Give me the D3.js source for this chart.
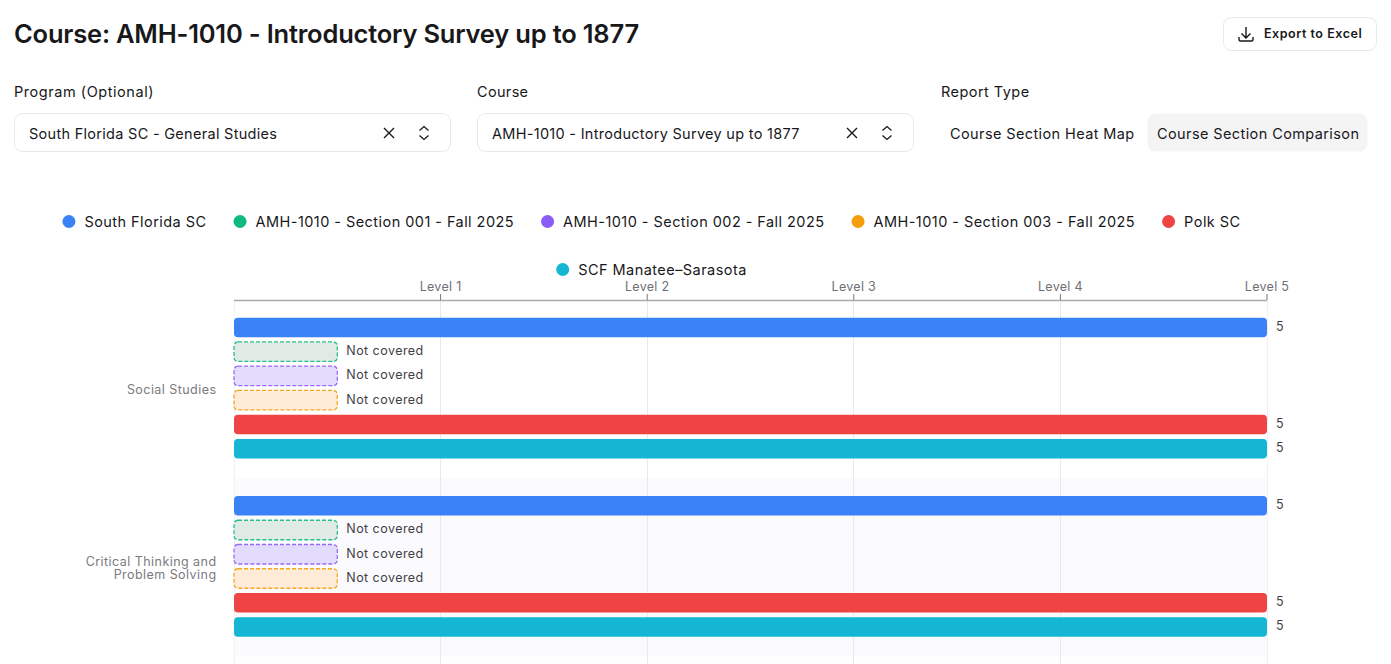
<!DOCTYPE html>
<html>
<head>
<meta charset="utf-8">
<script src="https://cdn.jsdelivr.net/npm/d3@7"></script>
<style>
  html, body { margin: 0; padding: 0; background: #fff; overflow: hidden; }
  svg { display: block; font-family: Inter, "Noto Sans", sans-serif; }
</style>
</head>
<body>
<div id="page"></div>
<script>
// chart data
var categories = ["Social Studies", "Critical Thinking and Problem Solving"];
var seriesNames = [
  "South Florida SC",
  "AMH-1010 - Section 001 - Fall 2025",
  "AMH-1010 - Section 002 - Fall 2025",
  "AMH-1010 - Section 003 - Fall 2025",
  "Polk SC",
  "SCF Manatee–Sarasota"
];
var southFlorida = [5, 5];
var section001 = [null, null];
var section002 = [null, null];
var section003 = [null, null];
var polk = [5, 5];
var scfManatee = [5, 5];
var levelTicks = [1, 2, 3, 4, 5];

var seriesValues = [southFlorida, section001, section002, section003, polk, scfManatee];
var seriesColors = ["#3b82f6", "#10b981", "#8b5cf6", "#f59e0b", "#ef4444", "#14b6d4"];
var emptyFills = ["#dbeafe", "#e0ebe5", "#e4dcfd", "#feecd9", "#fee2e2", "#cffafe"];

var width = 1391, height = 664;
var svg = d3.select("#page").append("svg").attr("width", width).attr("height", height);

var ink = "#18181b", border = "#e2ebe9";

// --- header and controls ---
function label(txt, x, y, size, weight, spacing) {
  return svg.append("text").attr("x", x).attr("y", y).text(txt)
    .attr("font-size", size).attr("font-weight", weight || 400).attr("fill", ink)
    .attr("letter-spacing", spacing || 0);
}
function box(x, y, w, h, r, fill, stroke) {
  return svg.append("rect").attr("x", x + 0.5).attr("y", y + 0.5).attr("width", w - 1).attr("height", h - 1)
    .attr("rx", r).attr("fill", fill).attr("stroke", stroke || "none");
}
function selectBox(x, title, value) {
  label(title, x, 96.5, 14.5, 400, x < 100 ? 0.55 : 0.33);
  box(x, 113, 437, 39, 8, "#fff", border);
  label(value, x + 15, 138.5, 14.5, 400, 0.29);
  var ix = x + 375, iy = 133; // clear icon
  svg.append("path").attr("d", "M" + (ix - 5) + "," + (iy - 5) + "L" + (ix + 5) + "," + (iy + 5) + "M" + (ix + 5) + "," + (iy - 5) + "L" + (ix - 5) + "," + (iy + 5))
    .attr("stroke", ink).attr("stroke-width", 1.4).attr("fill", "none");
  var cx = x + 410; // up/down chevrons
  svg.append("path").attr("d", "M" + (cx - 4.5) + "," + (iy - 2.5) + "L" + cx + "," + (iy - 6.5) + "L" + (cx + 4.5) + "," + (iy - 2.5) + "M" + (cx - 4.5) + "," + (iy + 2.5) + "L" + cx + "," + (iy + 6.5) + "L" + (cx + 4.5) + "," + (iy + 2.5))
    .attr("stroke", ink).attr("stroke-width", 1.3).attr("fill", "none");
}

label("Course:", 14, 43, 25.5, 600, -0.2);
label("AMH-1010 - Introductory Survey up to 1877", 116, 43, 25.5, 600, -0.2);

box(1223, 17, 154, 34, 8, "#fff", border);
svg.append("path")
  .attr("d", "M1246,27V38M1241.5,33.5L1246,38L1250.5,33.5M1239,37V39.5Q1239,41 1240.5,41H1251.5Q1253,41 1253,39.5V37")
  .attr("stroke", ink).attr("stroke-width", 1.4).attr("fill", "none");
label("Export to Excel", 1264, 38, 12.5, 600, 0.53);

selectBox(14, "Program (Optional)", "South Florida SC - General Studies");
selectBox(477, "Course", "AMH-1010 - Introductory Survey up to 1877");

label("Report Type", 941, 96.5, 14.5, 400, 0.45);
box(1147, 113, 221, 39, 8, "#f4f4f5");
label("Course Section Heat Map", 950, 138.5, 14.5, 400, 0.39);
label("Course Section Comparison", 1157, 138.5, 14.5, 400, 0.4);

// --- legend, centred and wrapped like the original ---
var legendMaxWidth = 1300, legendCentre = 651.5, legendGap = 27, legendRowY = [221.5, 269.5];
var legendItems = svg.append("g").selectAll("g").data(seriesNames).enter().append("g");
legendItems.append("circle").attr("cx", 6.5).attr("cy", 0).attr("r", 6.5)
  .attr("fill", function(d, i) { return seriesColors[i]; });
legendItems.append("text").attr("x", 22).attr("dy", "0.35em").attr("font-size", 14.5).attr("fill", ink)
  .attr("letter-spacing", 0.45)
  .text(function(d) { return d; });

var rows = [[]], rowW = 0;
legendItems.each(function() {
  var w = this.getBBox().width;
  if (rowW + w > legendMaxWidth) { rows.push([]); rowW = 0; }
  rows[rows.length - 1].push({ node: this, w: w });
  rowW += w + legendGap;
});
rows.forEach(function(row, r) {
  var total = d3.sum(row, function(d) { return d.w; }) + legendGap * (row.length - 1);
  var x = legendCentre - total / 2;
  row.forEach(function(item) {
    d3.select(item.node).attr("transform", "translate(" + x + "," + legendRowY[r] + ")");
    x += item.w + legendGap;
  });
});

// --- chart ---
var x = d3.scaleLinear().domain([0, 5]).range([234, 1267]);
var y = d3.scaleBand().domain(categories).range([300, 656.6]);
var inner = d3.scaleBand().domain(seriesNames).range([17.7, 158.45]).paddingInner(0.196);
var notCoveredLevel = 0.5; // placeholder bar length

// alternate band behind the second category
svg.append("g").selectAll("rect").data(categories).enter().append("rect")
  .attr("x", x(0)).attr("width", x(5) - x(0))
  .attr("y", function(d) { return y(d); }).attr("height", y.bandwidth())
  .attr("fill", function(d, i) { return i % 2 ? "#fbfbfe" : "none"; });

// grid
svg.append("g").selectAll("line").data([0].concat(levelTicks)).enter().append("line")
  .attr("x1", function(d) { return Math.floor(x(d)) + 0.5; }).attr("x2", function(d) { return Math.floor(x(d)) + 0.5; })
  .attr("y1", 300).attr("y2", height)
  .attr("stroke", function(d) { return d === 0 || d === 5 ? "#f0f1f3" : "#e3ecea"; });

// top axis
var axis = svg.append("g").attr("transform", "translate(-0.5,300)")
  .call(d3.axisTop(x).tickValues(levelTicks).tickSize(6).tickSizeOuter(0).tickPadding(3)
    .tickFormat(function(d) { return "Level " + d; }));
axis.select(".domain").attr("stroke", "#aaa").attr("stroke-width", 1.4);
axis.selectAll(".tick line").attr("stroke", "#777");
axis.selectAll("text").attr("font-size", 12.5).attr("font-family", "Inter").attr("fill", "#6f6f76")
  .attr("letter-spacing", 0.3);

// category labels, wrapped to the margin
var catLabels = svg.append("g").selectAll("text").data(categories).enter().append("text")
  .attr("text-anchor", "end").attr("font-size", 12.5).attr("fill", "#7a7a80").attr("letter-spacing", 0.45);
catLabels.each(function(d) {
  var t = d3.select(this), lines = [], cur = "";
  d.split(" ").forEach(function(word) {
    var next = cur ? cur + " " + word : word;
    t.text(next);
    if (t.node().getComputedTextLength() > 140 && cur) { lines.push(cur); cur = word; } else { cur = next; }
  });
  lines.push(cur);
  t.text(null);
  var mid = y(d) + 89.5, lineH = 13;
  lines.forEach(function(line, i) {
    t.append("tspan").attr("x", 216.5)
      .attr("y", mid + (i - (lines.length - 1) / 2) * lineH)
      .attr("dy", "0.35em").text(line);
  });
});

// bars
var rowsData = [];
seriesNames.forEach(function(name, s) {
  categories.forEach(function(cat, c) {
    rowsData.push({ series: name, s: s, cat: cat, value: seriesValues[s][c] });
  });
});
function rowY(d) { return y(d.cat) + inner(d.series); }

var marks = svg.append("g").selectAll("g").data(rowsData).enter().append("g");

marks.filter(function(d) { return d.value !== null; }).each(function(d) {
  var g = d3.select(this);
  g.append("rect").attr("x", x(0)).attr("y", rowY(d))
    .attr("width", x(d.value) - x(0)).attr("height", inner.bandwidth())
    .attr("rx", 4).attr("fill", seriesColors[d.s]);
  g.append("text").attr("x", x(d.value) + 9).attr("y", rowY(d) + inner.bandwidth() / 2)
    .attr("dy", "0.27em").attr("font-size", 12.5).attr("fill", "#3f3f46").text(d.value);
});

marks.filter(function(d) { return d.value === null; }).each(function(d) {
  var g = d3.select(this);
  g.append("rect").attr("x", x(0)).attr("y", rowY(d))
    .attr("width", x(notCoveredLevel) - x(0)).attr("height", inner.bandwidth())
    .attr("rx", 4).attr("fill", emptyFills[d.s])
    .attr("stroke", seriesColors[d.s]).attr("stroke-opacity", 0.9)
    .attr("stroke-width", 1.3).attr("stroke-dasharray", "4 2");
  g.append("text").attr("x", x(notCoveredLevel) + 9).attr("y", rowY(d) + inner.bandwidth() / 2)
    .attr("dy", "0.27em").attr("font-size", 12.5).attr("fill", "#3f3f46").attr("letter-spacing", 0.45).text("Not covered");
});
</script>
</body>
</html>
